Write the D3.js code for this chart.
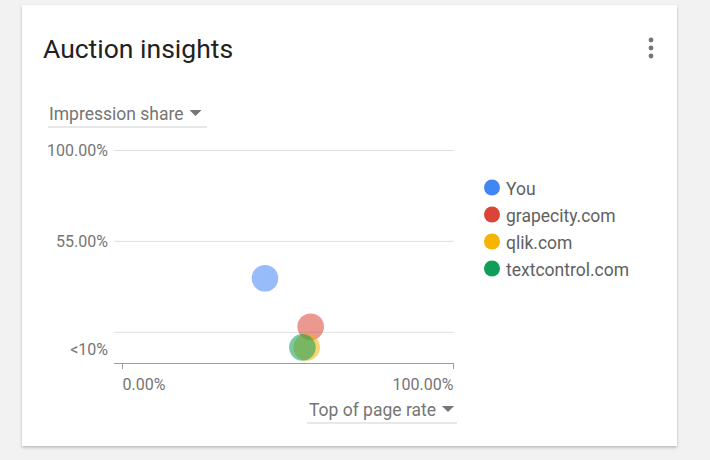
<!DOCTYPE html>
<html>
<head>
<meta charset="utf-8">
<script src="https://cdn.jsdelivr.net/npm/d3@7"></script>
<style>
  html, body { margin: 0; padding: 0; background: #f2f2f2; }
  svg { display: block; font-family: Roboto, "Noto Sans", sans-serif; }
</style>
</head>
<body>
<svg width="710" height="460"></svg>
<script>
// данные графика
const domains = ["You", "grapecity.com", "qlik.com", "textcontrol.com"];
const colors = ["#4285f4", "#db4437", "#f4b400", "#0f9d58"];
const topOfPageRate = [43.2, 57.0, 55.8, 54.5];     // ось X, %
const impressionShare = [36.5, 12.5, 5, 5];          // ось Y, % (<10 уходит в нижнюю корзину)
const yTicks = [10, 55, 100];
const yTickLabels = ["", "55.00%", "100.00%"];
const xTicks = [0, 100];
const xTickLabels = ["0.00%", "100.00%"];
const lowBucketLabel = "<10%";
const lowBucketValue = 2.3; // где рисуется корзина "<10%"

const svg = d3.select("svg");

// тень карточки
const defs = svg.append("defs");
const f = defs.append("filter").attr("id", "shadow")
    .attr("x", "-5%").attr("y", "-5%").attr("width", "110%").attr("height", "112%");
f.append("feDropShadow").attr("dx", 0).attr("dy", 1.5).attr("stdDeviation", 1.5)
    .attr("flood-color", "#000").attr("flood-opacity", 0.25);

svg.append("rect")
    .attr("x", 22).attr("y", 5).attr("width", 655).attr("height", 441)
    .attr("fill", "#fff").attr("filter", "url(#shadow)");

// заголовок
svg.append("text")
    .attr("x", 43).attr("y", 58)
    .attr("font-size", 26.5).attr("fill", "#212121")
    .text("Auction insights");

// меню (три точки)
svg.selectAll(".kebab").data([40, 48, 56]).join("circle")
    .attr("cx", 651).attr("cy", d => d).attr("r", 2.4).attr("fill", "#757575");

// выпадающие списки: текст + стрелка + подчеркивание
function dropdown(x, y, label, anchor, lineX1, lineX2, lineY) {
    const g = svg.append("g");
    const t = g.append("text")
        .attr("x", x).attr("y", y)
        .attr("font-size", 17.5).attr("fill", "#757575")
        .attr("text-anchor", anchor)
        .text(label);
    const bb = t.node().getBBox();
    const arrowX = bb.x + bb.width + 6;
    g.append("path")
        .attr("d", `M${arrowX},${y - 10} l12,0 l-6,6 z`)
        .attr("fill", "#757575");
    g.append("line")
        .attr("x1", lineX1).attr("x2", lineX2)
        .attr("y1", lineY).attr("y2", lineY)
        .attr("stroke", "#e0e0e0").attr("stroke-width", 1.5);
}
dropdown(49, 120, "Impression share", "start", 48, 207, 127);

// шкалы
const x = d3.scaleLinear().domain([0, 100]).range([122, 453]);
const y = d3.scaleLinear().domain([0, 100]).range([352, 150]);

// горизонтальная сетка + подписи Y
const yAxis = d3.axisLeft(y)
    .tickValues(yTicks)
    .tickSize(-340)
    .tickPadding(6)
    .tickFormat((d, i) => yTickLabels[i]);
const gy = svg.append("g").attr("transform", "translate(114,0)").call(yAxis);
gy.select(".domain").remove();
gy.selectAll(".tick line").attr("stroke", "#e0e0e0");
gy.selectAll(".tick text").attr("font-size", 16).attr("fill", "#757575")
    .attr("font-family", "Roboto, sans-serif");

svg.append("text")
    .attr("x", 108).attr("y", y(lowBucketValue) + 2.5)
    .attr("dy", "0.35em")
    .attr("text-anchor", "end")
    .attr("font-size", 16).attr("fill", "#757575")
    .text(lowBucketLabel);

// ось X
const xAxis = d3.axisBottom(x)
    .tickValues(xTicks)
    .tickSize(6)
    .tickSizeOuter(0)
    .tickPadding(10)
    .tickFormat((d, i) => xTickLabels[i]);
const gx = svg.append("g").attr("transform", "translate(0,363)").call(xAxis);
gx.select(".domain").remove();
gx.selectAll(".tick line").attr("stroke", "#9e9e9e");
gx.selectAll(".tick text").attr("font-size", 16).attr("fill", "#757575")
    .attr("font-family", "Roboto, sans-serif")
    .attr("text-anchor", (d, i) => i === 0 ? "start" : "end");
gx.append("line")
    .attr("x1", 114).attr("x2", 454).attr("y1", 0.5).attr("y2", 0.5)
    .attr("stroke", "#9e9e9e");

dropdown(436, 416, "Top of page rate", "end", 307, 457, 423);

// точки
const points = domains.map((d, i) => ({
    name: d,
    color: colors[i],
    x: topOfPageRate[i],
    y: impressionShare[i]
}));

svg.append("g").selectAll("circle")
    .data(points)
    .join("circle")
    .attr("cx", d => x(d.x))
    .attr("cy", d => d.y < 10 ? y(lowBucketValue) : y(d.y))
    .attr("r", 13.3)
    .attr("fill", d => d.color)
    .attr("fill-opacity", 0.55);

// легенда
const legend = svg.append("g").attr("transform", "translate(492,187.5)");
const rows = legend.selectAll("g").data(points).join("g")
    .attr("transform", (d, i) => `translate(0,${i * 27})`);
rows.append("circle").attr("r", 8).attr("fill", d => d.color);
rows.append("text")
    .attr("x", 14).attr("y", 1).attr("dy", "0.35em")
    .attr("font-size", 17.5).attr("fill", "#616161")
    .text(d => d.name);
</script>
</body>
</html>
